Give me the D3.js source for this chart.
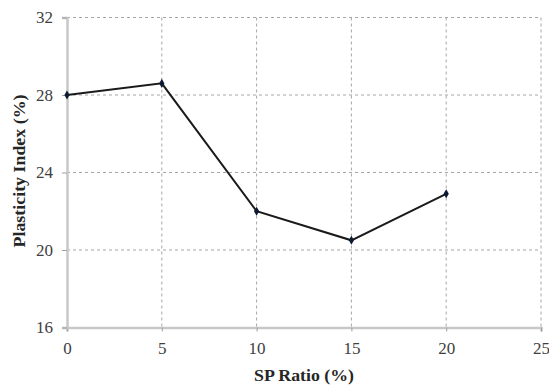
<!DOCTYPE html>
<html><head><meta charset="utf-8">
<script src="https://cdn.jsdelivr.net/npm/d3@7"></script>
<style>body{margin:0;background:#fff}svg{display:block}</style>
</head><body>
<script>
const spRatio = [0, 5, 10, 15, 20];
const plasticityIndex = [28.0, 28.6, 22.0, 20.5, 22.9];
const xTicks = [0, 5, 10, 15, 20, 25];
const yTicks = [16, 20, 24, 28, 32];

const W = 549, H = 385;
const svg = d3.select("body").append("svg").attr("width", W).attr("height", H);
const x = d3.scaleLinear().domain([0, 25]).range([67, 541]);
const y = d3.scaleLinear().domain([16, 32]).range([327.5, 17.5]);
const font = "'Liberation Serif', 'Times New Roman', serif";

// grid
svg.append("g").selectAll("line").data(xTicks.slice(1)).join("line")
  .attr("x1", d => x(d)).attr("x2", d => x(d)).attr("y1", y(32)).attr("y2", y(16))
  .attr("stroke", "#a6a6a6").attr("stroke-dasharray", "3,3").attr("stroke-width", 1);
svg.append("g").selectAll("line").data(yTicks.slice(1)).join("line")
  .attr("x1", x(0)).attr("x2", x(25)).attr("y1", d => y(d)).attr("y2", d => y(d))
  .attr("stroke", "#a6a6a6").attr("stroke-dasharray", "3,3").attr("stroke-width", 1);

// axes
const xAxis = svg.append("g").attr("transform", `translate(0,${y(16)})`)
  .call(d3.axisBottom(x).tickValues(xTicks).tickSize(4).tickPadding(10));
const yAxis = svg.append("g").attr("transform", `translate(${x(0)},0)`)
  .call(d3.axisLeft(y).tickValues(yTicks).tickSize(5).tickPadding(9));
[xAxis, yAxis].forEach(a => {
  a.select(".domain").attr("stroke", "#c8c8c8").attr("stroke-width", 2.5);
  a.selectAll(".tick line").attr("stroke", "#a0a0a0");
  a.selectAll(".tick text").attr("font-family", font).attr("font-size", 17).attr("fill", "#404040");
});

// line
const pts = spRatio.map((d, i) => [d, plasticityIndex[i]]);
svg.append("path").datum(pts)
  .attr("d", d3.line().x(d => x(d[0])).y(d => y(d[1])))
  .attr("fill", "none").attr("stroke", "#1a1a1a").attr("stroke-width", 2);
svg.append("g").selectAll("path").data(pts).join("path")
  .attr("d", d3.symbol().type(d3.symbolDiamond).size(24))
  .attr("transform", d => `translate(${x(d[0])},${y(d[1])})`)
  .attr("fill", "#0d1a33");

// titles
svg.append("text").attr("x", 304).attr("y", 381).attr("text-anchor", "middle")
  .attr("font-family", font).attr("font-weight", "bold").attr("font-size", 16).attr("fill", "#262626")
  .attr("textLength", 100).attr("lengthAdjust", "spacingAndGlyphs")
  .text("SP Ratio (%)");
svg.append("text").attr("transform", "translate(25,171) rotate(-90)").attr("text-anchor", "middle")
  .attr("font-family", font).attr("font-weight", "bold").attr("font-size", 16).attr("fill", "#262626")
  .attr("textLength", 153).attr("lengthAdjust", "spacingAndGlyphs")
  .text("Plasticity Index (%)");
</script>
</body></html>
